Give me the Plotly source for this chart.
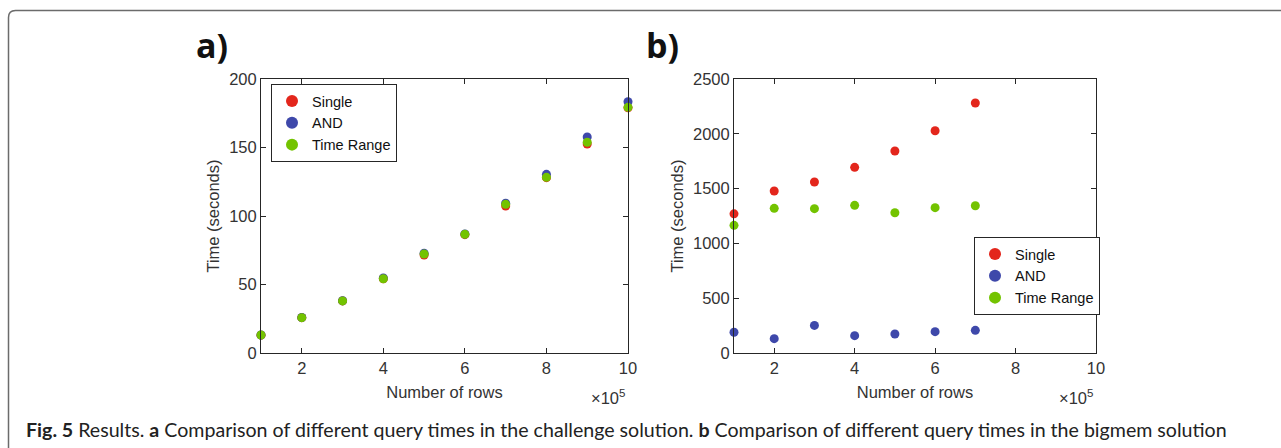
import plotly.graph_objects as go

W, H = 1281, 448

# ---------------- data ----------------
rows = [1, 2, 3, 4, 5, 6, 7, 8, 9, 10]  # x 10^5
a_single = [13.0, 25.8, 38.0, 54.2, 71.5, 86.4, 107.3, 128.0, 152.5, 179.0]
a_and = [13.1, 25.9, 38.1, 54.8, 72.8, 86.9, 109.3, 130.4, 157.7, 183.4]
a_trange = [13.1, 25.8, 38.0, 54.2, 72.3, 86.6, 108.5, 128.2, 153.8, 179.3]

rows_b = [1, 2, 3, 4, 5, 6, 7]
b_single = [1270, 1478, 1560, 1694, 1843, 2028, 2281]
b_and = [189, 131, 252, 158, 173, 195, 207]
b_trange = [1165, 1320, 1317, 1347, 1280, 1326, 1344]

series_names = ["Single", "AND", "Time Range"]
colors = ["#e3261c", "#3e48aa", "#73c300"]

x_ticks = [2, 4, 6, 8, 10]
a_yticks = [0, 50, 100, 150, 200]
b_yticks = [0, 500, 1000, 1500, 2000, 2500]

# ---------------- figure ----------------
fig = go.Figure()

def px_x(p):
    return p / W

def px_y(p):
    return 1 - p / H

for name, vals, col in zip(series_names, [a_single, a_and, a_trange], colors):
    fig.add_trace(go.Scatter(x=rows, y=vals, mode="markers", name=name,
                             marker=dict(color=col, size=9, line=dict(width=0)),
                             xaxis="x", yaxis="y", legend="legend", cliponaxis=False))
for name, vals, col in zip(series_names, [b_single, b_and, b_trange], colors):
    fig.add_trace(go.Scatter(x=rows_b, y=vals, mode="markers", name=name,
                             marker=dict(color=col, size=9, line=dict(width=0)),
                             xaxis="x2", yaxis="y2", legend="legend2", cliponaxis=False))

axis_col = "#262626"
tickfont = dict(family="Liberation Sans, Arial", size=16.5, color="#333333")
common = dict(showline=True, linecolor=axis_col, linewidth=1, mirror="ticks",
              ticks="inside", ticklen=5, tickcolor=axis_col, showgrid=False,
              zeroline=False, tickfont=tickfont, automargin=False)

ydom = [px_y(353), px_y(79)]
legfont = dict(family="Liberation Sans, Arial", size=14.5, color="#111")
fig.update_layout(
    template="none",
    width=W, height=H, margin=dict(l=0, r=0, t=0, b=0, autoexpand=False),
    paper_bgcolor="white", plot_bgcolor="white",
    xaxis=dict(domain=[px_x(261), px_x(628)], range=[1, 10], tickvals=x_ticks,
               title=dict(text="Number of rows", font=tickfont, standoff=10), anchor="y", **common),
    yaxis=dict(domain=ydom, range=[0, 200], tickvals=a_yticks,
               title=dict(text="Time (seconds)", font=tickfont, standoff=5), anchor="x", **common),
    xaxis2=dict(domain=[px_x(734), px_x(1096)], range=[1, 10], tickvals=x_ticks,
                title=dict(text="Number of rows", font=tickfont, standoff=10), anchor="y2", **common),
    yaxis2=dict(domain=ydom, range=[0, 2500], tickvals=b_yticks,
                title=dict(text="Time (seconds)", font=tickfont, standoff=5), anchor="x2", **common),
    legend=dict(x=px_x(271), y=px_y(84), xanchor="left", yanchor="top",
                bordercolor=axis_col, borderwidth=1, bgcolor="white",
                font=legfont, itemsizing="constant", tracegroupgap=0),
    legend2=dict(x=px_x(974), y=px_y(237), xanchor="left", yanchor="top",
                 bordercolor=axis_col, borderwidth=1, bgcolor="white",
                 font=legfont, itemsizing="constant", tracegroupgap=0),
    showlegend=True,
)

ann = []
for xp in (608, 1076):
    ann.append(dict(x=px_x(xp), y=px_y(397), xref="paper", yref="paper", showarrow=False,
                    text="×10<sup>5</sup>", font=tickfont, xanchor="center", yanchor="middle"))
ann.append(dict(x=px_x(212), y=px_y(45), xref="paper", yref="paper", showarrow=False,
                text="<b>a)</b>", font=dict(family="Open Sans", size=34, color="#111"),
                xanchor="center", yanchor="middle"))
ann.append(dict(x=px_x(662), y=px_y(45), xref="paper", yref="paper", showarrow=False,
                text="<b>b)</b>", font=dict(family="Open Sans", size=34, color="#111"),
                xanchor="center", yanchor="middle"))
ann.append(dict(x=px_x(24), y=px_y(429), xref="paper", yref="paper", showarrow=False,
                text="<b>Fig. 5</b> Results. <b>a</b> Comparison of different query times in the challenge solution. "
                     "<b>b</b> Comparison of different query times in the bigmem solution",
                font=dict(family="Lato", size=19.6, color="#222"),
                xanchor="left", yanchor="middle"))
fig.update_layout(annotations=ann)

# rounded frame around figure (top-left corner visible)
r = 7
x0, y0 = 8.5, 10.5
x1, y1 = 1300, 470
def P(x, y):
    return f"{px_x(x):.5f},{px_y(y):.5f}"
path = (f"M {P(x0, y1)} L {P(x0, y0 + r)} Q {P(x0, y0)} {P(x0 + r, y0)} "
        f"L {P(x1, y0)}")
fig.add_shape(type="path", path=path, xref="paper", yref="paper",
              line=dict(color="#6b6b6b", width=1.5))

fig.write_html("out.html", config={"displayModeBar": False},
               post_script="document.body.style.margin='0';document.body.style.overflow='hidden';")
